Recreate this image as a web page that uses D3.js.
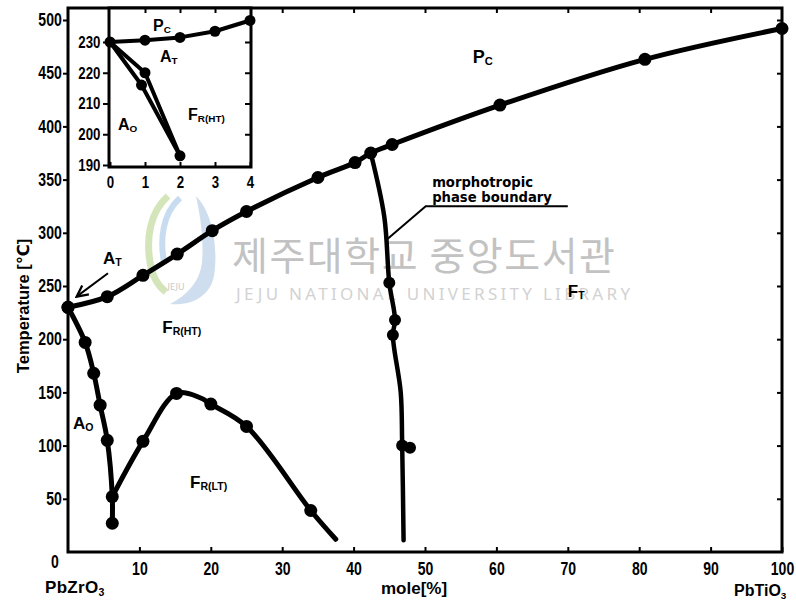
<!DOCTYPE html>
<html>
<head>
<meta charset="utf-8">
<script src="https://cdn.jsdelivr.net/npm/d3@7.9.0/dist/d3.min.js"></script>
<style>
  body { margin: 0; background: #fff; }
  svg { display: block; }
  .tick text { font-family: "Liberation Sans", Arial, sans-serif; font-weight: bold; font-size: 18px; fill: #000; }
  .tick line { stroke: #000; stroke-width: 2; }
  .lbl { font-family: "Liberation Sans", "DejaVu Sans", sans-serif; font-weight: bold; fill: #000; }
</style>
</head>
<body>
<svg id="chart" width="796" height="603"></svg>
<script>
// tick values
const xTicks = [10, 20, 30, 40, 50, 60, 70, 80, 90, 100];
const yTicks = [50, 100, 150, 200, 250, 300, 350, 400, 450, 500];
const insetXTicks = [0, 1, 2, 3, 4];
const insetYTicks = [190, 200, 210, 220, 230];

// main diagram: [mole % PbTiO3, temperature C]
const pcBoundary = [[0, 230], [5.5, 240], [10.5, 260], [15.3, 280], [20.2, 302], [25, 320],
  [35, 352], [40.2, 366], [42.4, 375], [45.4, 383], [60.5, 420], [80.8, 463], [100, 492]];
const aoBoundary = [[0, 230], [2.4, 197], [3.6, 168], [4.5, 138], [5.5, 105], [6.2, 52], [6.2, 27]];
const frltBoundary = [[6.2, 52], [10.5, 104], [15.2, 149], [18.5, 145], [20, 139], [25, 118], [34, 39], [37.5, 12]];
const frltDots = [[10.5, 104], [15.2, 149], [20, 139], [25, 118], [34, 39]];
const mpbLine = [[42.4, 375], [44.3, 315], [45, 253], [45.8, 218], [45.5, 204], [46.6, 150], [46.8, 102], [47, 11]];
const mpbDots = [[45, 253], [45.8, 218], [45.5, 204], [46.8, 100], [47.9, 98]];

// inset: [mole %, temperature C]
const insetPc = [[0, 230], [1, 230.6], [2, 231.5], [3, 233.5], [4, 237]];
const insetAt = [[0, 230], [1, 220], [2, 193]];
const insetAo = [[0, 230], [0.9, 216], [2, 193]];
const insetDots = [[1, 220], [0.9, 216], [2, 193]];

const svg = d3.select('#chart');

const x = d3.scaleLinear().domain([0, 100]).range([68, 782]);
const y = d3.scaleLinear().domain([0, 500]).range([552, 20]);
const plotTop = 8;
const squeeze = 'scale(0.78,1)';

// library watermark
const wm = svg.append('g');
wm.append('path')
  .attr('d', 'M196,196 C214,214 218,252 214,276 C210,296 192,306 170,304 C186,296 200,282 202,262 C204,240 200,214 196,196 Z')
  .attr('fill', '#a8c2e0').attr('opacity', 0.55);
wm.append('path')
  .attr('d', 'M168,196 C150,212 146,238 150,262 C152,276 158,286 166,292')
  .attr('fill', 'none').attr('stroke', '#c9e0a8').attr('stroke-width', 7).attr('opacity', 0.8);
wm.append('path')
  .attr('d', 'M180,198 C162,214 160,240 164,262')
  .attr('fill', 'none').attr('stroke', '#b9d3ec').attr('stroke-width', 6).attr('opacity', 0.8);
wm.append('text').attr('x', 176).attr('y', 290).attr('text-anchor', 'middle')
  .attr('font-family', 'Noto Sans').attr('font-size', 9).attr('fill', '#c8c8c8').text('JEJU');
wm.append('text').attr('x', 232).attr('y', 270)
  .attr('font-family', '"Noto Sans CJK KR"').attr('font-size', 39).attr('fill', '#c2c2c2')
  .attr('textLength', 383).attr('lengthAdjust', 'spacing')
  .text('제주대학교 중앙도서관');
wm.append('text').attr('x', 236).attr('y', 300)
  .attr('font-family', '"Noto Sans"').attr('font-size', 17).attr('fill', '#d2d2d2')
  .attr('textLength', 394).attr('lengthAdjust', 'spacing')
  .text('JEJU NATIONAL UNIVERSITY LIBRARY');

// axes
const gBottom = svg.append('g').attr('transform', `translate(0,${y(0)})`)
  .call(d3.axisBottom(x).tickValues(xTicks).tickSize(-5).tickSizeOuter(0).tickPadding(10));
const gLeft = svg.append('g').attr('transform', `translate(${x(0)},0)`)
  .call(d3.axisLeft(y).tickValues(yTicks).tickSize(5).tickSizeOuter(0).tickPadding(3));
const gRight = svg.append('g').attr('transform', `translate(${x(100)},0)`)
  .call(d3.axisRight(y).tickValues(yTicks).tickSize(-5).tickSizeOuter(0).tickFormat(''));
const gTop = svg.append('g').attr('transform', `translate(0,${plotTop})`)
  .call(d3.axisTop(x).tickValues(xTicks.slice(0, -1)).tickSize(-5).tickSizeOuter(0).tickFormat(''));
[gBottom, gLeft, gRight, gTop].forEach(g => g.select('.domain').remove());
[gBottom, gLeft].forEach(g => g.selectAll('.tick text').attr('transform', squeeze));

svg.append('rect')
  .attr('x', x(0)).attr('y', plotTop)
  .attr('width', x(100) - x(0)).attr('height', y(0) - plotTop)
  .attr('fill', 'none').attr('stroke', '#000').attr('stroke-width', 3);

svg.append('text').attr('class', 'lbl').attr('font-size', 18)
  .attr('transform', `translate(${x(0) - 17},568) ${squeeze}`).text('0');

// curves
const curve = d3.line().x(d => x(d[0])).y(d => y(d[1])).curve(d3.curveCatmullRom.alpha(0.5));

function drawLine(g, data, gen, w) {
  g.append('path').attr('d', gen(data))
    .attr('fill', 'none').attr('stroke', '#000').attr('stroke-width', w)
    .attr('stroke-linecap', 'round').attr('stroke-linejoin', 'round');
}
function drawDots(g, data, sx, sy, r) {
  g.selectAll(null).data(data).enter().append('circle')
    .attr('cx', d => sx(d[0])).attr('cy', d => sy(d[1])).attr('r', r).attr('fill', '#000');
}

const marks = svg.append('g');
drawLine(marks, pcBoundary, curve, 5);
drawLine(marks, aoBoundary, curve, 5);
drawLine(marks, frltBoundary, curve, 5);
drawLine(marks, mpbLine, curve, 4.5);
drawDots(marks, pcBoundary, x, y, 6.5);
drawDots(marks, aoBoundary, x, y, 6.5);
drawDots(marks, frltDots, x, y, 6.5);
drawDots(marks, mpbDots, x, y, 6);

// AT arrow
svg.append('defs').append('marker')
  .attr('id', 'arr').attr('viewBox', '0 0 10 10').attr('refX', 9).attr('refY', 5)
  .attr('markerWidth', 7).attr('markerHeight', 7).attr('orient', 'auto')
  .append('path').attr('d', 'M1,1 L9,5 L1,9').attr('fill', 'none').attr('stroke', '#000').attr('stroke-width', 1.6);
svg.append('line')
  .attr('x1', x(5.6)).attr('y1', y(262)).attr('x2', x(1.2)).attr('y2', y(240))
  .attr('stroke', '#000').attr('stroke-width', 2).attr('marker-end', 'url(#arr)');

// morphotropic phase boundary leader
svg.append('path')
  .attr('d', `M${x(44.7)},${y(294)} L${x(50.1)},${y(325)} L${x(70)},${y(325)}`)
  .attr('fill', 'none').attr('stroke', '#000').attr('stroke-width', 2);
svg.append('text').attr('font-family', '"DejaVu Sans", sans-serif').attr('font-weight', 'bold')
  .attr('font-size', 13.2).attr('x', x(51)).attr('y', y(343)).text('morphotropic');
svg.append('text').attr('font-family', '"DejaVu Sans", sans-serif').attr('font-weight', 'bold')
  .attr('font-size', 13.2).attr('x', x(51)).attr('y', y(329)).text('phase boundary');

// phase labels
function phase(g, px, py, main, sub, size) {
  const t = g.append('text').attr('class', 'lbl').attr('x', px).attr('y', py).attr('font-size', size);
  t.append('tspan').text(main);
  t.append('tspan').attr('font-size', size * 0.62).attr('dy', size * 0.12).text(sub);
}
phase(svg, x(56.7), y(460), 'P', 'C', 18);
phase(svg, x(4.9), y(271), 'A', 'T', 17);
phase(svg, x(13.2), y(206), 'F', 'R(HT)', 17);
phase(svg, x(0.7), y(116), 'A', 'O', 17);
phase(svg, x(17.1), y(60), 'F', 'R(LT)', 17);
phase(svg, x(70), y(240), 'F', 'T', 17);

// axis titles
svg.append('text').attr('class', 'lbl').attr('font-size', 16.5)
  .attr('transform', 'translate(29,306) rotate(-90)').attr('text-anchor', 'middle')
  .text('Temperature [℃]');
const sub3 = (t, s) => { t.append('tspan').attr('font-size', s * 0.62).attr('dy', 3).text('3'); };
let t1 = svg.append('text').attr('class', 'lbl').attr('font-size', 17).attr('x', 45).attr('y', 593)
  .attr('letter-spacing', 0.3);
t1.append('tspan').text('PbZrO'); sub3(t1, 17);
svg.append('text').attr('class', 'lbl').attr('font-size', 17).attr('x', 381).attr('y', 594).text('mole[%]');
let t2 = svg.append('text').attr('class', 'lbl').attr('font-size', 16).attr('x', 734).attr('y', 596);
t2.append('tspan').text('PbTiO'); sub3(t2, 16);

// inset
const ix = d3.scaleLinear().domain([0, 4]).range([110, 250]);
const iy = d3.scaleLinear().domain([190, 230]).range([165, 42]);
const inset = svg.append('g');
inset.append('rect').attr('x', 109).attr('y', plotTop).attr('width', 142).attr('height', 167 - plotTop)
  .attr('fill', '#fff');
const iLeft = inset.append('g').attr('transform', 'translate(109,0)')
  .call(d3.axisLeft(iy).tickValues(insetYTicks).tickSize(6).tickSizeOuter(0).tickPadding(5).tickFormat(d3.format('d')));
const iBottom = inset.append('g').attr('transform', 'translate(0,167)')
  .call(d3.axisBottom(ix).tickValues(insetXTicks).tickSize(-5).tickSizeOuter(0).tickPadding(9).tickFormat(d3.format('d')));
const iTop = inset.append('g').attr('transform', `translate(0,${plotTop})`)
  .call(d3.axisTop(ix).tickValues([1, 2, 3]).tickSize(-5).tickSizeOuter(0).tickFormat(''));
const iRight = inset.append('g').attr('transform', 'translate(251,0)')
  .call(d3.axisRight(iy).tickValues([200, 210, 220, 230]).tickSize(-6).tickSizeOuter(0).tickFormat(''));
[iLeft, iBottom, iTop, iRight].forEach(g => g.select('.domain').remove());
inset.selectAll('.tick text').style('font-size', '17px').attr('transform', squeeze);
inset.append('rect').attr('x', 109).attr('y', plotTop).attr('width', 142).attr('height', 167 - plotTop)
  .attr('fill', 'none').attr('stroke', '#000').attr('stroke-width', 3);

const iline = d3.line().x(d => ix(d[0])).y(d => iy(d[1]));
drawLine(inset, insetPc, iline, 4);
drawLine(inset, insetAt, iline, 4);
drawLine(inset, insetAo, iline, 4);
drawDots(inset, insetPc, ix, iy, 5.5);
drawDots(inset, insetDots, ix, iy, 5.5);

phase(inset, ix(1.23), iy(233.6), 'P', 'C', 16);
phase(inset, ix(1.43), iy(223.6), 'A', 'T', 16);
phase(inset, ix(2.23), iy(204.6), 'F', 'R(HT)', 16);
phase(inset, ix(0.23), iy(201.4), 'A', 'O', 16);
</script>
</body>
</html>
